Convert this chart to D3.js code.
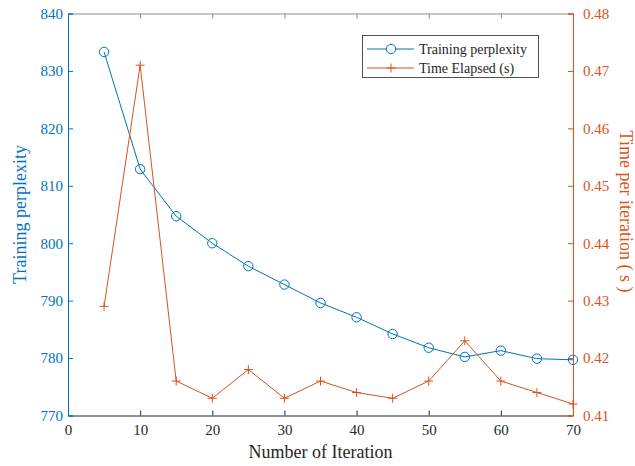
<!DOCTYPE html>
<html>
<head>
<meta charset="utf-8">
<script src="https://cdn.jsdelivr.net/npm/d3@7"></script>
<style>
body { margin: 0; background: #fff; }
svg text { font-family: "Liberation Serif", "Times New Roman", serif !important; }
</style>
</head>
<body>
<script>
var iterations = [5, 10, 15, 20, 25, 30, 35, 40, 45, 50, 55, 60, 65, 70];
var perplexity = [833.3, 812.9, 804.7, 800.0, 796.0, 792.8, 789.6, 787.1, 784.2, 781.8, 780.2, 781.3, 779.9, 779.7];
var timeElapsed = [0.429, 0.471, 0.416, 0.413, 0.418, 0.413, 0.416, 0.414, 0.413, 0.416, 0.423, 0.416, 0.414, 0.412];
var xTicks = [0, 10, 20, 30, 40, 50, 60, 70];
var leftTicks = [770, 780, 790, 800, 810, 820, 830, 840];
var rightTicks = [0.41, 0.42, 0.43, 0.44, 0.45, 0.46, 0.47, 0.48];

var width = 635,
    height = 466;
var mLeft = 68, mRight = 573, mTop = 13.5, mBottom = 415.5;
var blue = "#0072BD", orange = "#D95319";
var serif = "Liberation Serif, Times New Roman, serif";

var svg = d3.select("body").append("svg")
    .attr("width", width)
    .attr("height", height);

var x = d3.scaleLinear().domain([0, 70]).range([mLeft, mRight]);
var yL = d3.scaleLinear().domain([770, 840]).range([mBottom, mTop]);
var yR = d3.scaleLinear().domain([0.41, 0.48]).range([mBottom, mTop]);

// box: top line with inward ticks
svg.append("g")
    .attr("transform", "translate(0," + mTop + ")")
    .call(d3.axisTop(x).tickValues(xTicks).tickSize(-5).tickFormat(""))
    .call(function(g){ g.selectAll("path,line").attr("stroke", "#8c8c8c"); });

// bottom axis
svg.append("g")
    .attr("transform", "translate(0," + mBottom + ")")
    .call(d3.axisBottom(x).tickValues(xTicks).tickSize(-5).tickPadding(9))
    .attr("font-family", serif)
    .attr("font-size", 15)
    .call(function(g){
      g.selectAll("path,line").attr("stroke", "#262626");
      g.selectAll("text").attr("fill", "#262626");
    });

// left axis
svg.append("g")
    .attr("transform", "translate(" + mLeft + ",0)")
    .call(d3.axisLeft(yL).tickValues(leftTicks).tickSize(-5).tickPadding(5))
    .attr("font-family", serif)
    .attr("font-size", 15)
    .call(function(g){
      g.selectAll("path,line").attr("stroke", blue);
      g.selectAll("text").attr("fill", blue);
    });

// right axis
svg.append("g")
    .attr("transform", "translate(" + mRight + ",0)")
    .call(d3.axisRight(yR).tickValues(rightTicks).tickSize(-5).tickPadding(10).tickFormat(d3.format(".2f")))
    .attr("font-family", serif)
    .attr("font-size", 15)
    .call(function(g){
      g.selectAll("path,line").attr("stroke", orange);
      g.selectAll("text").attr("fill", orange);
    });

// perplexity line
svg.append("path")
    .datum(perplexity)
    .attr("fill", "none")
    .attr("stroke", blue)
    .attr("stroke-width", 1)
    .attr("d", d3.line().x(function(d, i){ return x(iterations[i]); }).y(function(d){ return yL(d); }));

svg.selectAll("circle.pp").data(perplexity).enter().append("circle")
    .attr("class", "pp")
    .attr("cx", function(d, i){ return x(iterations[i]); })
    .attr("cy", function(d){ return yL(d); })
    .attr("r", 4.7)
    .attr("fill", "none")
    .attr("stroke", blue)
    .attr("stroke-width", 1);

// time line
svg.append("path")
    .datum(timeElapsed)
    .attr("fill", "none")
    .attr("stroke", orange)
    .attr("stroke-width", 1)
    .attr("d", d3.line().x(function(d, i){ return x(iterations[i]); }).y(function(d){ return yR(d); }));

svg.selectAll("path.tp").data(timeElapsed).enter().append("path")
    .attr("class", "tp")
    .attr("transform", function(d, i){ return "translate(" + x(iterations[i]) + "," + yR(d) + ")"; })
    .attr("d", "M-4.5,0H4.5M0,-4.5V4.5")
    .attr("fill", "none")
    .attr("stroke", orange)
    .attr("stroke-width", 1);

// axis titles
svg.append("text")
    .attr("x", (mLeft + mRight) / 2)
    .attr("y", 458)
    .attr("text-anchor", "middle")
    .attr("fill", "#262626")
    .style("font-size", "18px")
    .text("Number of Iteration");

svg.append("text")
    .attr("transform", "translate(26," + (mTop + mBottom) / 2 + ") rotate(-90)")
    .attr("text-anchor", "middle")
    .attr("fill", blue)
    .style("font-size", "18px")
    .text("Training  perplexity");

svg.append("text")
    .attr("transform", "translate(620," + ((mTop + mBottom) / 2 - 3) + ") rotate(90)")
    .attr("text-anchor", "middle")
    .attr("fill", orange)
    .style("font-size", "18px")
    .text("Time  per iteration ( s )");

// legend
var legend = svg.append("g");
legend.append("rect")
    .attr("x", 362.5).attr("y", 35.5)
    .attr("width", 176).attr("height", 42)
    .attr("fill", "#fff")
    .attr("stroke", "#262626")
    .attr("stroke-width", 0.8);

var legendItems = ["Training perplexity", "Time Elapsed (s)"];
var legendColors = [blue, orange];
legendItems.forEach(function(name, i){
  var ly = 49 + i * 19;
  legend.append("line")
      .attr("x1", 367).attr("x2", 414).attr("y1", ly).attr("y2", ly)
      .attr("stroke", legendColors[i]).attr("stroke-width", 1);
  if (i === 0) {
    legend.append("circle").attr("cx", 391).attr("cy", ly).attr("r", 4.7)
        .attr("fill", "#fff").attr("stroke", blue);
  } else {
    legend.append("path").attr("transform", "translate(391," + ly + ")")
        .attr("d", "M-4.5,0H4.5M0,-4.5V4.5")
        .attr("stroke", orange).attr("fill", "none");
  }
  legend.append("text")
      .attr("x", 419).attr("y", ly + 4.5)
      .attr("fill", "#262626")
      .style("font-size", "14px")
      .text(name);
});
</script>
</body>
</html>
